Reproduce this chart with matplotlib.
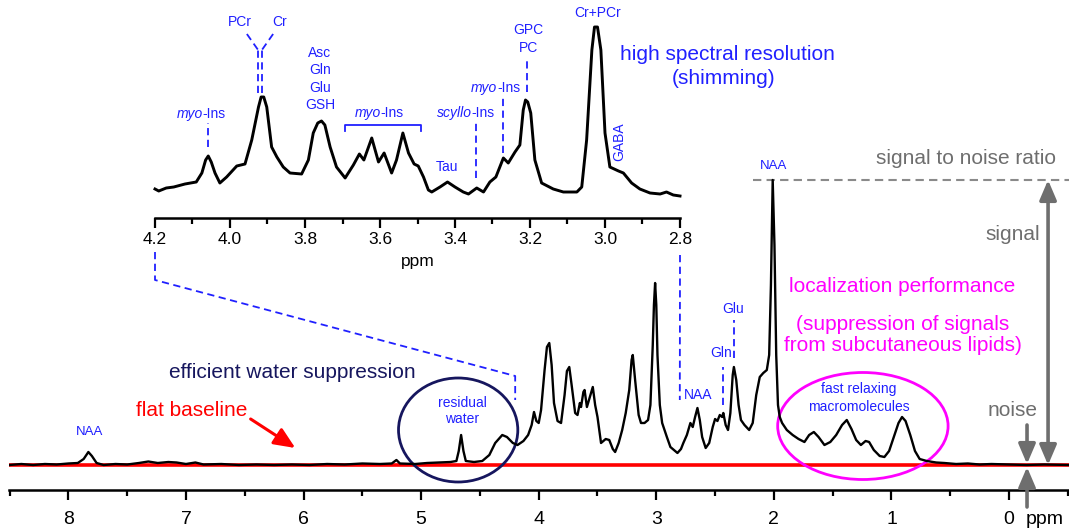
import matplotlib.pyplot as plt
from matplotlib.patches import Ellipse
from matplotlib.ticker import MultipleLocator, FormatStrFormatter

plt.rcParams['font.family'] = ['Liberation Sans', 'DejaVu Sans']
BIG = ['Liberation Sans', 'DejaVu Sans']

BLUE = '#2020ff'
NAVY = '#16165e'
MAGENTA = '#ff00ff'
GRAY = '#6e6e6e'
RED = '#ff0000'

# full spectrum (ppm, intensity above baseline)
main_ppm = [8.50, 8.40, 8.30, 8.20, 8.10, 8.00, 7.92, 7.87, 7.83, 7.80, 7.76, 7.70, 7.60, 7.50,
            7.40, 7.32, 7.24, 7.15, 7.08, 7.00, 6.92, 6.85, 6.70, 6.55, 6.40, 6.25, 6.10, 5.95,
            5.80, 5.65, 5.50, 5.35, 5.25, 5.21, 5.18, 5.05, 4.95, 4.85, 4.75, 4.70, 4.68, 4.66,
            4.64, 4.62, 4.55, 4.48, 4.42, 4.37, 4.31, 4.27, 4.22, 4.18, 4.13, 4.09, 4.06, 4.04,
            4.02, 4.00, 3.98, 3.95, 3.93, 3.91, 3.89, 3.87, 3.84, 3.81, 3.78, 3.76, 3.74, 3.72,
            3.69, 3.67, 3.65, 3.64, 3.62, 3.61, 3.59, 3.57, 3.54, 3.52, 3.50, 3.47, 3.43, 3.40,
            3.37, 3.35, 3.32, 3.29, 3.26, 3.23, 3.21, 3.20, 3.18, 3.15, 3.13, 3.10, 3.07, 3.05,
            3.03, 3.02, 3.01, 3.00, 2.99, 2.97, 2.95, 2.91, 2.88, 2.85, 2.82, 2.79, 2.77, 2.74,
            2.71, 2.69, 2.67, 2.65, 2.63, 2.61, 2.58, 2.55, 2.52, 2.50, 2.48, 2.46, 2.44, 2.43,
            2.41, 2.39, 2.37, 2.35, 2.34, 2.32, 2.30, 2.28, 2.25, 2.21, 2.18, 2.15, 2.12, 2.09,
            2.06, 2.04, 2.025, 2.01, 1.995, 1.98, 1.965, 1.95, 1.93, 1.89, 1.84, 1.79, 1.74, 1.70,
            1.66, 1.62, 1.57, 1.52, 1.47, 1.42, 1.38, 1.34, 1.30, 1.26, 1.22, 1.19, 1.15, 1.10,
            1.06, 1.02, 0.98, 0.94, 0.91, 0.88, 0.84, 0.80, 0.76, 0.70, 0.62, 0.55, 0.45, 0.35,
            0.25, 0.15, 0.00, -0.15, -0.30, -0.51]
main_int = [0, 1, 0, 1, 0.5, 1.5, 2, 6, 13, 9, 2, 0, 1, 0.5,
            2, 3.5, 2, 3, 2.5, 1, 2.5, 0.5, 1, 0, 0.5, 0, 0.5, 0,
            1, 0.5, 1.5, 1, 1.5, 5, 1.5, 1, 2, 2.5, 3, 4, 14, 30,
            14, 4, 3, 4, 10, 22, 30, 28, 22, 20, 24, 30, 40, 53,
            44, 42, 55, 95, 118, 122, 100, 62, 44, 42, 70, 94, 98, 80,
            52, 50, 62, 58, 73, 75, 58, 66, 78, 60, 48, 22, 26, 25,
            16, 13, 22, 35, 52, 75, 105, 110, 85, 50, 42, 42, 45, 60,
            120, 160, 182, 160, 110, 60, 42, 28, 18, 15, 12, 16, 22, 30,
            42, 38, 48, 57, 45, 28, 17, 22, 38, 46, 44, 50, 48, 52,
            40, 35, 52, 90, 98, 85, 60, 45, 40, 35, 42, 70, 88, 92,
            95, 110, 180, 285, 220, 110, 60, 48, 42, 35, 30, 26, 23, 30,
            33, 28, 20, 23, 30, 40, 45, 36, 25, 20, 24, 23, 15, 9,
            8, 14, 28, 42, 48, 44, 30, 14, 6, 4, 2.5, 2, 1, 1.5,
            0.5, 1, 0.5, 0, 0.5, 0]

# shimmed inset, 4.2 - 2.8 ppm
ins_ppm = [4.200, 4.190, 4.170, 4.150, 4.120, 4.090, 4.075, 4.065, 4.058, 4.050, 4.040, 4.027,
           4.009, 3.982, 3.960, 3.942, 3.924, 3.917, 3.910, 3.902, 3.889, 3.875, 3.858, 3.840,
           3.809, 3.791, 3.778, 3.766, 3.756, 3.747, 3.733, 3.716, 3.693, 3.671, 3.655, 3.643,
           3.622, 3.604, 3.589, 3.569, 3.556, 3.539, 3.524, 3.509, 3.498, 3.484, 3.471, 3.462,
           3.440, 3.420, 3.400, 3.378, 3.364, 3.342, 3.324, 3.307, 3.291, 3.271, 3.258, 3.240,
           3.227, 3.218, 3.212, 3.206, 3.198, 3.187, 3.169, 3.138, 3.111, 3.075, 3.062, 3.049,
           3.035, 3.028, 3.020, 3.011, 3.000, 2.987, 2.964, 2.951, 2.929, 2.907, 2.880, 2.853,
           2.836, 2.818, 2.800]
ins_int = [29, 27, 30, 31, 34, 36, 45, 58, 62, 56, 45, 35,
           41, 52, 54, 78, 111, 121, 121, 111, 71, 61, 51, 45,
           44, 58, 85, 95, 97, 93, 71, 51, 40, 53, 64, 58,
           80, 56, 65, 45, 58, 85, 65, 54, 52, 41, 28, 26,
           31, 36, 31, 26, 24, 30, 26, 36, 41, 60, 55, 66,
           73, 108, 118, 116, 105, 58, 35, 29, 26, 26, 31, 78,
           168, 191, 191, 168, 85, 51, 47, 45, 35, 29, 25, 24,
           26, 23, 22]

main_ticks = [8, 7, 6, 5, 4, 3, 2, 1, 0]
ins_ticks = [4.2, 4.0, 3.8, 3.6, 3.4, 3.2, 3.0, 2.8]

# inset labels
ins_lab_text = ['PCr', 'Cr', 'Asc\nGln\nGlu\nGSH', 'Tau', 'GPC\nPC', 'Cr+PCr']
ins_lab_ppm = [3.973, 3.867, 3.760, 3.421, 3.205, 3.019]
ins_lab_y = [196, 196, 139, 51, 179, 205]
# italic-prefix labels (myo-Ins, scyllo-Ins)
ins_name_pre = ['myo', 'myo', 'scyllo', 'myo']
ins_name_ppm = [4.073, 3.598, 3.356, 3.287]
ins_name_y = [104, 105, 105, 130]
# dashed markers in the inset
ins_mark_ppm = [4.058, 3.925, 3.915, 3.345, 3.273, 3.207]
ins_mark_lo = [71, 125, 125, 40, 65, 126]
ins_mark_hi = [95, 168, 168, 96, 123, 158]

W, H = 1069, 531
fig = plt.figure(figsize=(W / 100, H / 100), dpi=100)


def px(x, y):
    return x / W, 1 - y / H


ax = fig.add_axes([9 / W, 41 / H, 1060 / W, 490 / H])
ax.set_xlim(8.505, -0.51)
ax.set_ylim(-25, 465)
ins = fig.add_axes([155 / W, 1 - 218 / H, 525 / W, 218 / H])
ins.set_xlim(4.2, 2.8)
ins.set_ylim(0, 218)

for a in (ax, ins):
    a.patch.set_alpha(0)
    for s in ['top', 'right', 'left']:
        a.spines[s].set_visible(False)
    a.spines['bottom'].set_linewidth(1.8)
    a.set_yticks([])

ax.set_xticks(main_ticks)
ax.xaxis.set_minor_locator(MultipleLocator(0.5))
ax.tick_params(axis='x', which='major', direction='out', length=7, width=1.6, pad=8, labelsize=14)
ax.tick_params(axis='x', which='minor', direction='out', length=4.5, width=1.6)
fig.text(*px(1045, 520), 'ppm', fontsize=14, ha='center', va='center')

ins.set_xticks(ins_ticks)
ins.xaxis.set_major_formatter(FormatStrFormatter('%.1f'))
ins.xaxis.set_minor_locator(MultipleLocator(0.1))
ins.tick_params(axis='x', which='major', direction='out', length=7, width=1.6, pad=3, labelsize=12.5)
ins.tick_params(axis='x', which='minor', direction='out', length=4.3, width=1.6)
ins.set_xlabel('ppm', fontsize=12.5, labelpad=5)

# spectra
ax.axhline(0, color=RED, lw=2.6, zorder=1)
ax.plot(main_ppm, main_int, color='black', lw=1.7, zorder=3)
ins.plot(ins_ppm, ins_int, color='black', lw=2.1, clip_on=False)

# inset labels
LS = 10
for t, x, y in zip(ins_lab_text, ins_lab_ppm, ins_lab_y):
    ins.text(x, y, t, color=BLUE, fontsize=LS, ha='center', va='center', linespacing=1.3)
ins.text(2.963, 76, 'GABA', color=BLUE, fontsize=LS, ha='center', va='center', rotation=90)
for p, x, y in zip(ins_name_pre, ins_name_ppm, ins_name_y):
    ins.text(x, y, p, color=BLUE, fontsize=LS, style='italic', ha='right', va='center')
    ins.text(x, y, '-Ins', color=BLUE, fontsize=LS, ha='left', va='center')
for x, y0, y1 in zip(ins_mark_ppm, ins_mark_lo, ins_mark_hi):
    ins.plot([x, x], [y0, y1], color=BLUE, lw=1.3, ls=(0, (4, 2.5)))
ins.plot([3.955, 3.925], [184, 168], color=BLUE, lw=1.3, ls=(0, (4, 2.5)))
ins.plot([3.885, 3.915], [184, 168], color=BLUE, lw=1.3, ls=(0, (4, 2.5)))
ins.plot([3.693, 3.693, 3.49, 3.49], [87, 93, 93, 87], color=BLUE, lw=1.3)


# dashed zoom lines from inset axis to main spectrum
def ins_to_main(x, y):
    return ax.transData.inverted().transform(ins.transData.transform((x, y)))


p1, p2 = ins_to_main(4.2, -34), ins_to_main(4.2, -62)
ax.plot([p1[0], p2[0], 4.2, 4.2], [p1[1], p2[1], 89, 65], color=BLUE, lw=1.3,
        ls=(0, (4, 2.5)), clip_on=False)
p3 = ins_to_main(2.8, -37)
ax.plot([p3[0], 2.8], [p3[1], 65], color=BLUE, lw=1.3, ls=(0, (4, 2.5)), clip_on=False)

# main labels
naa_top = max(main_int)
ax.text(7.82, 33, 'NAA', color=BLUE, fontsize=9.5, ha='center', va='center')
ax.text(2.00, naa_top + 14, 'NAA', color=BLUE, fontsize=9.5, ha='center', va='center')
ax.text(2.64, 70, 'NAA', color=BLUE, fontsize=LS, ha='center', va='center')
ax.text(2.45, 112, 'Gln', color=BLUE, fontsize=LS, ha='center', va='center')
ax.text(2.35, 156, 'Glu', color=BLUE, fontsize=LS, ha='center', va='center')
ax.plot([2.43, 2.43], [60, 98], color=BLUE, lw=1.3, ls=(0, (4, 2.5)))
ax.plot([2.34, 2.34], [107, 145], color=BLUE, lw=1.3, ls=(0, (4, 2.5)))
ax.text(4.65, 54, 'residual\nwater', color=BLUE, fontsize=LS, ha='center', va='center', linespacing=1.25)
ax.text(1.277, 67, 'fast relaxing\nmacromolecules', color=BLUE, fontsize=LS, ha='center', va='center',
        linespacing=1.35)

ax.add_patch(Ellipse((4.685, 35), 119 / 117.3, 104, fill=False, ec=NAVY, lw=2.0, clip_on=False))
ax.add_patch(Ellipse((1.243, 39), 170 / 117.3, 107, fill=False, ec=MAGENTA, lw=2.0, clip_on=False))

# commentary text
fig.text(*px(727, 55), 'high spectral resolution', family=BIG, fontsize=15, color=BLUE, ha='center', va='center')
fig.text(*px(724, 78), '(shimming)', family=BIG, fontsize=15, color=BLUE, ha='center', va='center')
fig.text(*px(292, 372), 'efficient water suppression', family=BIG, fontsize=15, color=NAVY,
         ha='center', va='center')
fig.text(*px(192, 410), 'flat baseline', family=BIG, fontsize=15, color=RED, ha='center', va='center')
fig.text(*px(902, 287), 'localization performance', family=BIG, fontsize=15, color=MAGENTA,
         ha='center', va='center')
fig.text(*px(903, 335), '(suppression of signals\nfrom subcutaneous lipids)', family=BIG, fontsize=15,
         color=MAGENTA, ha='center', va='center', linespacing=1.1)
fig.text(*px(966, 159), 'signal to noise ratio', family=BIG, fontsize=15, color=GRAY, ha='center', va='center')
fig.text(*px(1013, 235), 'signal', family=BIG, fontsize=15, color=GRAY, ha='center', va='center')
fig.text(*px(1013, 411), 'noise', family=BIG, fontsize=15, color=GRAY, ha='center', va='center')

ax.annotate('', xy=(6.07, 17), xytext=(6.45, 46),
            arrowprops=dict(arrowstyle='-|>,head_length=0.8,head_width=0.35', color=RED, lw=2.2,
                            mutation_scale=16, shrinkA=0, shrinkB=0))

# signal / noise arrows
ax.hlines(naa_top, 2.18, -0.51, colors='#8a8a8a', lw=1.5, linestyles=(0, (4, 2.5)))
head = dict(color=GRAY, lw=2.6, mutation_scale=16, shrinkA=0, shrinkB=0)
ax.annotate('', xy=(-0.332, 0), xytext=(-0.332, naa_top), annotation_clip=False,
            arrowprops=dict(arrowstyle='<|-|>,head_length=0.75,head_width=0.32', **head))
ax.annotate('', xy=(-0.153, 1), xytext=(-0.153, 40), annotation_clip=False,
            arrowprops=dict(arrowstyle='-|>,head_length=0.75,head_width=0.32', **head))
ax.annotate('', xy=(-0.153, -2), xytext=(-0.153, -42), annotation_clip=False,
            arrowprops=dict(arrowstyle='-|>,head_length=0.75,head_width=0.32', **head))

fig.savefig('out.png', dpi=100)
